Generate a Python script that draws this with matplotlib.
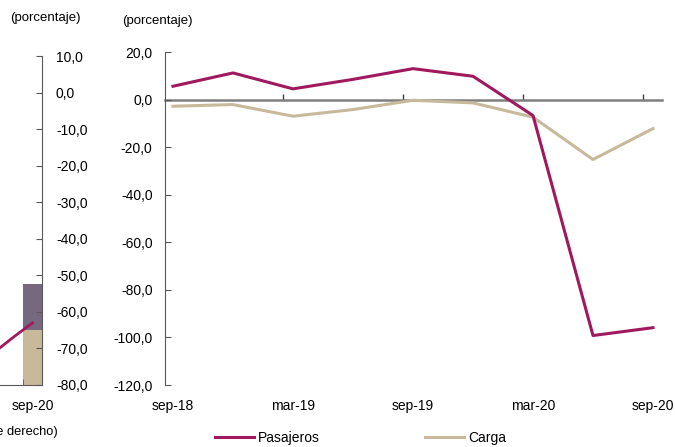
import numpy as np
import matplotlib.pyplot as plt

plt.rcParams['font.family'] = ['Liberation Sans', 'DejaVu Sans']

# main panel: quarterly growth (%)
quarters = ['sep-18', 'dic-18', 'mar-19', 'jun-19', 'sep-19', 'dic-19', 'mar-20', 'jun-20', 'sep-20']
pasajeros = [5.6, 11.2, 4.5, 8.5, 13.0, 9.8, -6.7, -99.2, -95.9]
carga = [-2.8, -2.1, -7.0, -4.2, -0.3, -1.4, -7.4, -25.2, -12.2]
y_ticks = [20, 0, -20, -40, -60, -80, -100, -120]

# left (cut-off) panel
left_cats = ['mar-20', 'jun-20', 'sep-20']
left_line = [-71.0, -66.9, -63.0]
left_bar_low = [np.nan, np.nan, 15.1]
left_bar_high = [np.nan, np.nan, 12.6]
left_base = -80
left_ticks = [10, 0, -10, -20, -30, -40, -50, -60, -70, -80]

MAROON = '#a0195e'
BEIGE = '#c9b99b'
PURPLE = '#76687f'
SPINE = '#595959'
ZERO = '#7f7f7f'


def fmt(v):
    return f'{v:.1f}'.replace('.', ',')


fig = plt.figure(figsize=(6.75, 4.47), dpi=100)

# ---- main chart
ax = fig.add_axes([165 / 675, 62 / 447, 497 / 675, 333 / 447])
x = np.arange(len(quarters))
ax.plot(x, pasajeros, color=MAROON, lw=2.2, label='Pasajeros', zorder=3)
ax.plot(x, carga, color=BEIGE, lw=2.2, label='Carga', zorder=2)
ax.set_ylim(-120, 20)
ax.set_xlim(-0.133, 8.15)
ax.set_yticks(y_ticks, [fmt(v) for v in y_ticks])
ax.set_xticks(x[::2], quarters[::2])
for s in ['top', 'right', 'bottom']:
    ax.spines[s].set_visible(False)
ax.spines['left'].set_color(SPINE)
ax.tick_params(axis='y', direction='in', length=4, color=SPINE, labelsize=10, pad=9)
ax.tick_params(axis='x', length=0, labelsize=10, pad=10)

zero_ax = ax.secondary_xaxis(120 / 140)
zero_ax.set_xticks(x[1::2] + 0.83, [])
zero_ax.spines['top'].set_color(ZERO)
zero_ax.spines['top'].set_linewidth(1.8)
zero_ax.tick_params(length=4, color='#404040', width=1)

ax.legend(loc='center left', bbox_to_anchor=(215 / 675, 9 / 447), bbox_transform=fig.transFigure,
          ncol=2, frameon=False, fontsize=10, handlelength=2.8, handletextpad=0.3,
          columnspacing=7.6, borderpad=0, borderaxespad=0)
fig.text(157 / 675, 1 - 21 / 447, '(porcentaje)', ha='center', va='center', fontsize=9.5)

# ---- left panel (partly outside the picture)
axl = fig.add_axes([0, 62 / 447, 42 / 675, 329 / 447])
xl = np.arange(len(left_cats))
axl.bar(xl, left_bar_low, bottom=left_base, width=1.0, color=BEIGE)
axl.bar(xl, left_bar_high, bottom=left_base + np.array(left_bar_low), width=1.0, color=PURPLE)
axl.plot(xl, left_line, color=MAROON, lw=2.0)
axl.set_ylim(-80, 10)
last = len(left_cats) - 1
axl.set_xlim(last - 32.5 / 19, last + 9.5 / 19)
axl.yaxis.tick_right()
axl.set_yticks(left_ticks, [fmt(v) for v in left_ticks])
axl.set_xticks([last], [left_cats[last]])
axl.set_xticks([last - 0.5], minor=True)
for s in ['top', 'left']:
    axl.spines[s].set_visible(False)
axl.spines['right'].set_color(SPINE)
axl.spines['bottom'].set_color(SPINE)
axl.tick_params(axis='y', direction='in', length=4, color=SPINE, labelsize=10, pad=10)
axl.tick_params(axis='x', which='major', length=0, labelsize=10, pad=10)
axl.tick_params(axis='x', which='minor', direction='in', length=4, color=SPINE)
fig.text(45 / 675, 1 - 18 / 447, '(porcentaje)', ha='center', va='center', fontsize=9.5)
fig.text(58 / 675, 1 - 432 / 447, '(eje derecho)', ha='right', va='center', fontsize=9.3)

fig.savefig('out.png', dpi=100)
